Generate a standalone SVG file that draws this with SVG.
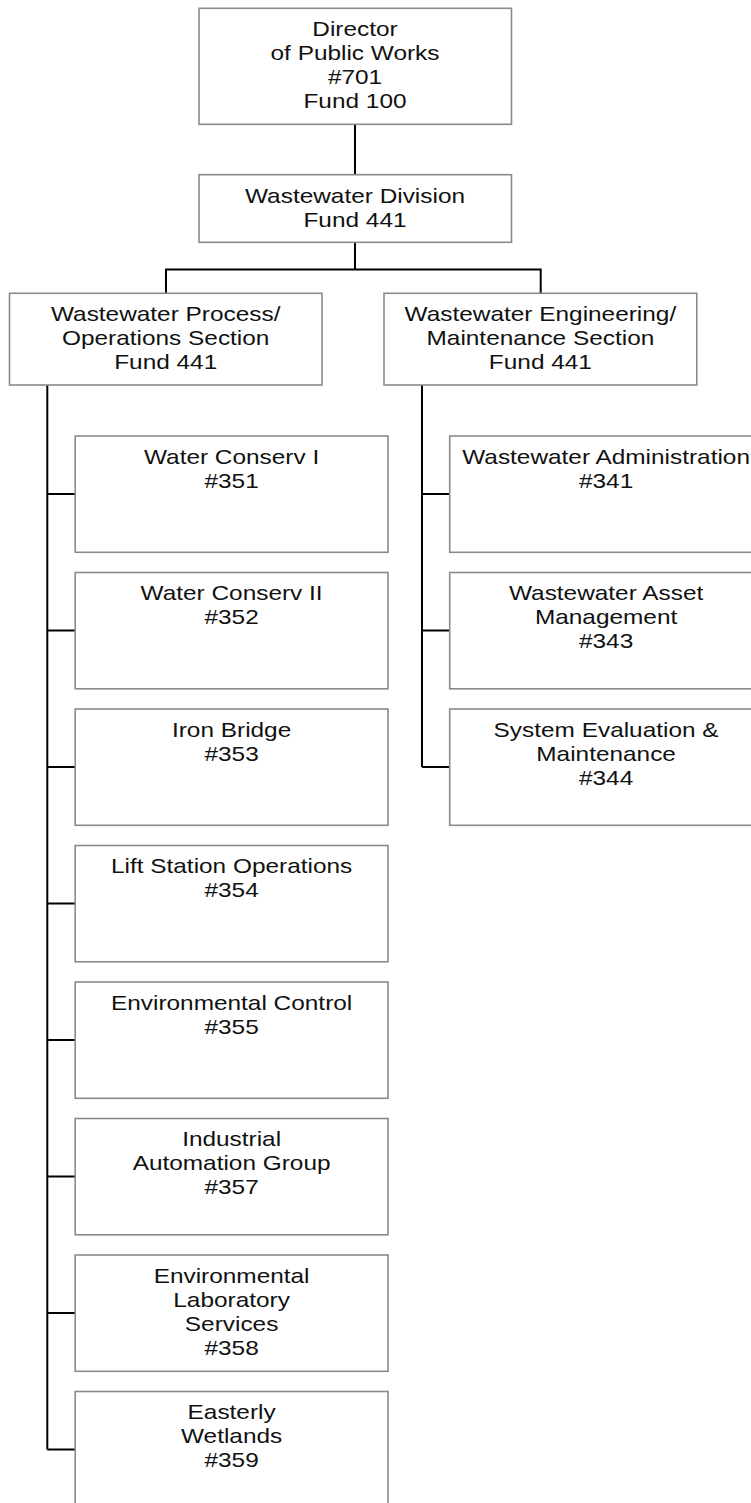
<svg xmlns="http://www.w3.org/2000/svg" width="751" height="1503" viewBox="0 0 751 1503">
<style>
.box{fill:#ffffff;stroke:#8a8a8a;stroke-width:1.6}
.lbl{font-family:"Liberation Sans",Arial,sans-serif;font-size:20px;fill:#111111;text-anchor:middle}
.conn{fill:none;stroke:#000000;stroke-width:2}
</style>
<rect width="751" height="1503" fill="#ffffff"/>
<g id="connectors">
<path class="conn" d="M355 124.3V174.7"/>
<path class="conn" d="M355 242.3V269.5M166 293.3V269.5H540.7V293.3"/>
<path class="conn" d="M47.3 385V1449.5"/>
<path class="conn" d="M47.3 494H75M47.3 630.5H75M47.3 767H75M47.3 903.5H75M47.3 1040H75M47.3 1176.5H75M47.3 1313H75M47.3 1449.5H75"/>
<path class="conn" d="M422 385V767"/>
<path class="conn" d="M422 494H449.7M422 630.5H449.7M422 767H449.7"/>
</g>
<g id="director">
<rect class="box" x="199" y="8.3" width="312.5" height="116"/>
<text class="lbl" transform="matrix(1.22 0 0 1 355 0)"><tspan x="0" y="35.8">Director</tspan><tspan x="0" y="60">of Public Works</tspan><tspan x="0" y="84.2">#701</tspan><tspan x="0" y="108.4">Fund 100</tspan></text>
</g>
<g id="division">
<rect class="box" x="199" y="174.7" width="312.5" height="67.6"/>
<text class="lbl" transform="matrix(1.22 0 0 1 355 0)"><tspan x="0" y="202.7">Wastewater Division</tspan><tspan x="0" y="226.8">Fund 441</tspan></text>
</g>
<g id="process-section">
<rect class="box" x="9.5" y="293.3" width="312.5" height="91.7"/>
<text class="lbl" transform="matrix(1.22 0 0 1 165.7 0)"><tspan x="0" y="320.8">Wastewater Process/</tspan><tspan x="0" y="345">Operations Section</tspan><tspan x="0" y="369.2">Fund 441</tspan></text>
</g>
<g id="engineering-section">
<rect class="box" x="384" y="293.3" width="312.8" height="91.7"/>
<text class="lbl" transform="matrix(1.22 0 0 1 540.4 0)"><tspan x="0" y="320.8">Wastewater Engineering/</tspan><tspan x="0" y="345">Maintenance Section</tspan><tspan x="0" y="369.2">Fund 441</tspan></text>
</g>
<g id="n351">
<rect class="box" x="75.2" y="436" width="312.8" height="116.3"/>
<text class="lbl" transform="matrix(1.22 0 0 1 231.6 0)"><tspan x="0" y="464">Water Conserv I</tspan><tspan x="0" y="488">#351</tspan></text>
</g>
<g id="n352">
<rect class="box" x="75.2" y="572.5" width="312.8" height="116.3"/>
<text class="lbl" transform="matrix(1.22 0 0 1 231.6 0)"><tspan x="0" y="600.5">Water Conserv II</tspan><tspan x="0" y="624.5">#352</tspan></text>
</g>
<g id="n353">
<rect class="box" x="75.2" y="709" width="312.8" height="116.3"/>
<text class="lbl" transform="matrix(1.22 0 0 1 231.6 0)"><tspan x="0" y="737">Iron Bridge</tspan><tspan x="0" y="761">#353</tspan></text>
</g>
<g id="n354">
<rect class="box" x="75.2" y="845.5" width="312.8" height="116.3"/>
<text class="lbl" transform="matrix(1.22 0 0 1 231.6 0)"><tspan x="0" y="873.5">Lift Station Operations</tspan><tspan x="0" y="897.5">#354</tspan></text>
</g>
<g id="n355">
<rect class="box" x="75.2" y="982" width="312.8" height="116.3"/>
<text class="lbl" transform="matrix(1.22 0 0 1 231.6 0)"><tspan x="0" y="1010">Environmental Control</tspan><tspan x="0" y="1034">#355</tspan></text>
</g>
<g id="n357">
<rect class="box" x="75.2" y="1118.5" width="312.8" height="116.3"/>
<text class="lbl" transform="matrix(1.22 0 0 1 231.6 0)"><tspan x="0" y="1146.5">Industrial</tspan><tspan x="0" y="1170.5">Automation Group</tspan><tspan x="0" y="1194.5">#357</tspan></text>
</g>
<g id="n358">
<rect class="box" x="75.2" y="1255" width="312.8" height="116.3"/>
<text class="lbl" transform="matrix(1.22 0 0 1 231.6 0)"><tspan x="0" y="1283">Environmental</tspan><tspan x="0" y="1307">Laboratory</tspan><tspan x="0" y="1331">Services</tspan><tspan x="0" y="1355">#358</tspan></text>
</g>
<g id="n359">
<rect class="box" x="75.2" y="1391.5" width="312.8" height="116.3"/>
<text class="lbl" transform="matrix(1.22 0 0 1 231.6 0)"><tspan x="0" y="1419.5">Easterly</tspan><tspan x="0" y="1443.5">Wetlands</tspan><tspan x="0" y="1467.5">#359</tspan></text>
</g>
<g id="n341">
<rect class="box" x="449.7" y="436" width="312.8" height="116.3"/>
<text class="lbl" transform="matrix(1.22 0 0 1 606.1 0)"><tspan x="0" y="464">Wastewater Administration</tspan><tspan x="0" y="488">#341</tspan></text>
</g>
<g id="n343">
<rect class="box" x="449.7" y="572.5" width="312.8" height="116.3"/>
<text class="lbl" transform="matrix(1.22 0 0 1 606.1 0)"><tspan x="0" y="600.5">Wastewater Asset</tspan><tspan x="0" y="624.5">Management</tspan><tspan x="0" y="648.5">#343</tspan></text>
</g>
<g id="n344">
<rect class="box" x="449.7" y="709" width="312.8" height="116.3"/>
<text class="lbl" transform="matrix(1.22 0 0 1 606.1 0)"><tspan x="0" y="737">System Evaluation &amp;</tspan><tspan x="0" y="761">Maintenance</tspan><tspan x="0" y="785">#344</tspan></text>
</g>
</svg>
